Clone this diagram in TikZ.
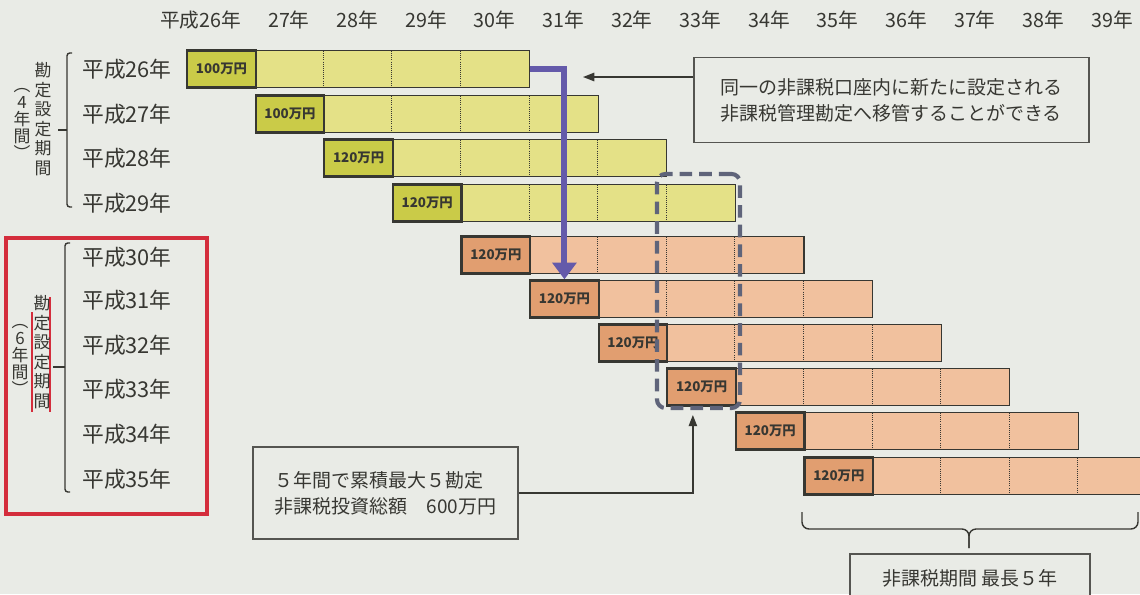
\documentclass[tikz,border=0pt]{standalone}
\usepackage{fontspec}
\setmainfont{Noto Sans CJK JP}
\usetikzlibrary{arrows.meta}

\definecolor{paper}{RGB}{233,235,230}
\definecolor{ylwcell}{RGB}{228,225,135}
\definecolor{ylwlbl}{RGB}{202,203,72}
\definecolor{orgcell}{RGB}{241,193,158}
\definecolor{orglbl}{RGB}{225,158,112}
\definecolor{ink}{RGB}{55,55,50}
\definecolor{movecol}{RGB}{100,90,170}
\definecolor{dashcol}{RGB}{95,100,122}
\definecolor{redline}{RGB}{212,45,60}

\begin{document}
\begin{tikzpicture}[x=0.025cm,y=-0.025cm,
	yr/.style={font=\fontsize{15.5}{18}\selectfont,text=ink},
	hdr/.style={font=\fontsize{14}{16}\selectfont,text=ink},
	vtxt/.style={font=\fontsize{12}{13.9}\selectfont,text=ink,align=center,inner sep=0pt},
	vpar/.style={font=\fontsize{12}{12.1}\selectfont,text=ink,align=center,inner sep=0pt},
	barbox/.style={draw=ink,line width=0.8pt,minimum width=8.575cm,minimum height=0.925cm,inner sep=0pt},
	lblbox/.style={draw=ink,line width=1.6pt,minimum width=1.715cm,minimum height=0.925cm,inner sep=0pt,
		font=\fontsize{9.5}{11}\selectfont\bfseries,text=ink},
	divider/.style={ink,line width=0.5pt,densely dotted},
	brk/.style={ink,line width=1pt,rounded corners=2pt},
	note/.style={draw=ink!85,line width=1.1pt,fill=paper,inner sep=0pt,
		font=\fontsize{13.5}{18.5}\selectfont,text=ink,align=left},
	ptr/.style={ink,line width=1pt,-{Triangle[length=8pt,width=6pt]}},
	movearrow/.style={movecol,line width=4.3pt,-{Triangle[length=12pt,width=17pt]}},
	redmark/.style={redline,line width=1.4pt},
	redbox/.style={redline,line width=2.2pt}]
	\path[use as bounding box,fill=paper] (0,0) rectangle (1140,594);

	\foreach \n [count=\k from 0] in {26,...,39}
		\node[hdr] (h\n) at (220.3+68.6*\k,20) {\ifnum\n=26 \llap{平成}\fi\n 年};

	\foreach \i/\yc/\amt in {0/69/100,1/114/100,2/158/120,3/203/120,4/255/120,
		5/299/120,6/343/120,7/387/120,8/431/120,9/476/120} {
		\pgfmathsetmacro\xs{186+68.6*\i}
		\ifnum\i<4 \def\cc{ylwcell}\def\lc{ylwlbl}\else \def\cc{orgcell}\def\lc{orglbl}\fi
		\node[barbox,fill=\cc,anchor=west] (bar\i) at (\xs,\yc) {};
		\foreach \k in {2,3,4}
			\draw[divider] (\xs+68.6*\k,\yc-18) -- (\xs+68.6*\k,\yc+18);
		\node[lblbox,fill=\lc,anchor=west] (lbl\i) at (\xs,\yc) {\amt 万円};
	}

	\foreach \n/\yc in {26/69,27/114,28/158,29/203,30/257,31/300,32/345,33/389,34/434,35/479}
		\node[yr] (yr\n) at (127,\yc) {平成\n 年};

	\draw[brk] (72,53) -- (67,53) -- (67,207) -- (72,207);
	\draw[brk] (67,130) -- (58,130);
	\node[vtxt] (vt1) at (43,119) {勘\\定\\設\\定\\期\\間};
	\node[vpar] (vp1) at (22,124) {︵\\4\\年\\間\\︶};

	\draw[redbox] (6,238) rectangle (207,514);
	\draw[brk] (70,243) -- (65,243) -- (65,492) -- (70,492);
	\draw[brk] (65,367) -- (53,367);
	\draw[redmark] (32,312) -- (32,412);
	\draw[redmark] (50,297) -- (50,412);
	\node[vtxt] (vt2) at (42,352) {勘\\定\\設\\定\\期\\間};
	\node[vpar] (vp2) at (20,360) {︵\\6\\年\\間\\︶};

	\draw[movearrow] (bar0.east) -| (lbl5.north);

	\node[note,minimum width=9.875cm,minimum height=2.125cm] (note1) at (891.5,100)
		{同一の非課税口座内に新たに設定される\\非課税管理勘定へ移管することができる};
	\coordinate (tip1) at (583,77);
	\draw[ptr] (note1.west |- tip1) -- (tip1);

	\node[draw=dashcol,line width=2.9pt,dash pattern=on 9pt off 5pt,rounded corners=6pt,
		minimum width=2.075cm,minimum height=5.85cm] (dash) at (698.5,291) {};

	\node[note,minimum width=6.625cm,minimum height=2.3cm] (note2) at (385.5,493)
		{５年間で累積最大５勘定\\非課税投資総額　600万円};
	\draw[ptr] (note2.east) -| ([xshift=-4pt,yshift=-3.5pt]dash.south);

	\draw[brk,rounded corners=5pt] (802,512) |- (969,529) -- (969,548);
	\draw[brk,rounded corners=5pt] (1138,512) |- (969,529) -- (969,548);
	\node[note,align=center,minimum width=6cm,minimum height=1.2cm] (note3) at (970,578)
		{非課税期間 最長５年};
\end{tikzpicture}
\end{document}
